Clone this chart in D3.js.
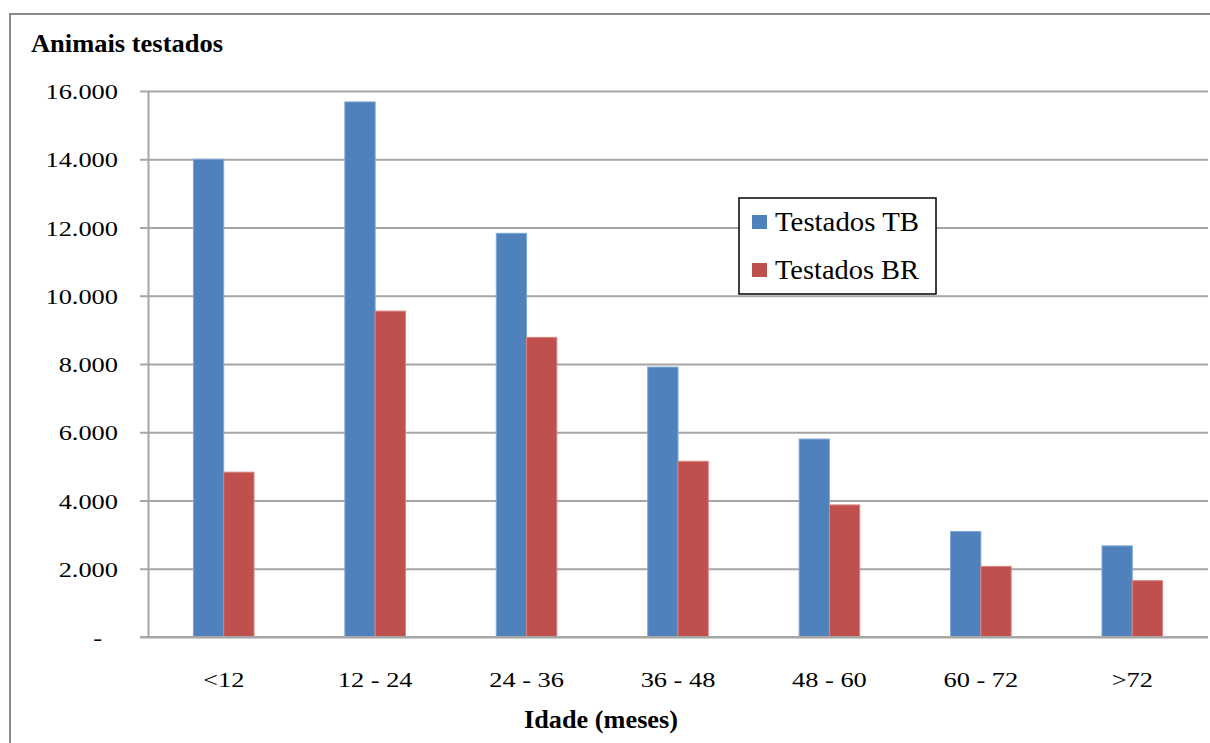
<!DOCTYPE html>
<html>
<head>
<meta charset="utf-8">
<script src="https://cdn.jsdelivr.net/npm/d3@7"></script>
<style>
  html, body { margin: 0; padding: 0; background: #fff; overflow: hidden; }
  svg { display: block; }
  svg text { font-family: "Liberation Serif", "Times New Roman", serif !important; }
</style>
</head>
<body>
<svg id="chart" width="1210" height="743"></svg>
<script>
// ---- data ----
const categories = ["<12", "12 - 24", "24 - 36", "36 - 48", "48 - 60", "60 - 72", ">72"];
const seriesNames = ["Testados TB", "Testados BR"];
const testadosTB = [14000, 15680, 11830, 7910, 5800, 3090, 2670];
const testadosBR = [4830, 9550, 8780, 5150, 3870, 2070, 1650];
const yTicks = [0, 2000, 4000, 6000, 8000, 10000, 12000, 14000, 16000];
const yTitle = "Animais testados";
const xTitle = "Idade (meses)";
const colors = ["#4F81BD", "#C0504D"];
const edgeColors = ["#7FA6D6", "#D98381"];

(function () {
const svg = d3.select("#chart");
const mLeft = 148, mRight = 1208, mTop = 91, mBottom = 637;

// outer border
svg.append("rect").attr("x", 10).attr("y", 14).attr("width", 1260).attr("height", 800)
  .attr("fill", "none").attr("stroke", "#8c8c8c").attr("stroke-width", 2);

const x = d3.scaleBand().domain(categories).range([mLeft, mRight]).paddingInner(0.6).paddingOuter(0.3);
const xs = d3.scaleBand().domain(seriesNames).range([0, x.bandwidth()]);
const y = d3.scaleLinear().domain([0, 16000]).range([mBottom, mTop]);

const loc = d3.formatLocale({decimal: ",", thousands: ".", grouping: [3], currency: ["R$", ""]});
const fmt = loc.format(",d");

// gridlines
const grid = svg.append("g").attr("transform", `translate(${mLeft},0)`)
  .call(d3.axisLeft(y).tickValues(yTicks).tickSize(-(mRight - mLeft)).tickFormat(""));
grid.select(".domain").remove();
grid.selectAll("line").attr("stroke", "#a6a6a6").attr("stroke-width", 2);

// y axis
const yAx = svg.append("g").attr("transform", `translate(${mLeft},0)`)
  .call(d3.axisLeft(y).tickValues(yTicks).tickSize(8).tickSizeOuter(0).tickFormat(d => d === 0 ? "-" : fmt(d)));
yAx.attr("font-family", null);
yAx.select(".domain").attr("stroke", "#a6a6a6").attr("stroke-width", 2);
yAx.selectAll(".tick line").attr("stroke", "#a6a6a6").attr("stroke-width", 2);
yAx.selectAll(".tick text")
  .attr("font-size", 22).attr("fill", "#000")
  .attr("x", d => d === 0 ? -46 / 1.2 : -30 / 1.2)
  .attr("dy", "0.35em")
  .attr("transform", "scale(1.2,1)");

// bars
const series = [testadosTB, testadosBR];
series.forEach((vals, si) => {
  svg.append("g").selectAll("rect").data(vals).join("rect")
    .attr("x", (d, i) => x(categories[i]) + xs(seriesNames[si]))
    .attr("y", d => y(d))
    .attr("width", xs.bandwidth())
    .attr("height", d => y(0) - y(d))
    .attr("fill", colors[si])
    .attr("stroke", edgeColors[si]).attr("stroke-width", 1);
});

// baseline
svg.append("line").attr("x1", mLeft - 8).attr("x2", mRight).attr("y1", y(0)).attr("y2", y(0))
  .attr("stroke", "#a6a6a6").attr("stroke-width", 2);

// x axis labels
const xAx = svg.append("g").attr("transform", `translate(0,${mBottom})`)
  .call(d3.axisBottom(x).tickSize(0).tickPadding(0));
xAx.attr("font-family", null);
xAx.select(".domain").remove();
xAx.selectAll(".tick text")
  .attr("font-size", 22).attr("fill", "#000")
  .attr("y", 50).attr("dy", 0)
  .attr("text-anchor", "middle")
  .attr("transform", "scale(1.2,1)");

// titles
svg.append("text").attr("x", 31).attr("y", 52).text(yTitle)
  .attr("font-weight", "bold").attr("font-size", 26)
  .attr("textLength", 192).attr("lengthAdjust", "spacingAndGlyphs");
svg.append("text").attr("x", 601).attr("y", 728).attr("text-anchor", "middle").text(xTitle)
  .attr("font-weight", "bold").attr("font-size", 25)
  .attr("textLength", 154).attr("lengthAdjust", "spacingAndGlyphs");

// legend
const lg = svg.append("g");
lg.append("rect").attr("x", 739).attr("y", 198).attr("width", 197).attr("height", 96)
  .attr("fill", "#fff").attr("stroke", "#000").attr("stroke-width", 1.5);
seriesNames.forEach((name, i) => {
  const cy = 222 + i * 48;
  lg.append("rect").attr("x", 752).attr("y", cy - 7).attr("width", 15).attr("height", 14)
    .attr("fill", colors[i]);
  lg.append("text").attr("x", 775).attr("y", cy + 9).text(name)
    .attr("font-size", 28).attr("fill", "#000")
    .attr("textLength", 144).attr("lengthAdjust", "spacingAndGlyphs");
});
})();
</script>
</body>
</html>
